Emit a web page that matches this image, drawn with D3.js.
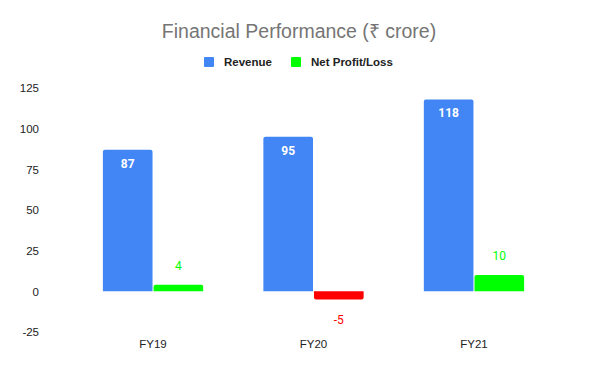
<!DOCTYPE html>
<html>
<head>
<meta charset="utf-8">
<script src="https://cdn.jsdelivr.net/npm/d3@7"></script>
<style>
  body { margin: 0; background: #fff; }
  svg { display: block; }
</style>
</head>
<body>
<svg id="chart" width="600" height="371"></svg>
<script>
const years = ["FY19", "FY20", "FY21"];
const revenue = [87, 95, 118];
const netProfit = [4, -5, 10];
const yTicks = [-25, 0, 25, 50, 75, 100, 125];
const seriesNames = ["Revenue", "Net Profit/Loss"];

const width = 600, height = 371;
const margin = { top: 88, right: 46, bottom: 39, left: 73 };

const svg = d3.select('#chart');

const x0 = d3.scaleBand()
  .domain(years)
  .range([margin.left, width - margin.right])
  .paddingInner(0.3625)
  .paddingOuter(0.18);

const x1 = d3.scaleBand()
  .domain(seriesNames)
  .range([0, x0.bandwidth()])
  .padding(0.02);

const y = d3.scaleLinear()
  .domain([-25, 125])
  .range([height - margin.bottom, margin.top]);

// title
svg.append('text')
  .attr('x', 299).attr('y', 38)
  .attr('text-anchor', 'middle')
  .style('font-family', 'Liberation Sans, Arial, sans-serif')
  .style('font-size', '19.5px')
  .style('fill', '#757575')
  .text('Financial Performance (₹ crore)');

// legend
const legendItems = [
  { name: seriesNames[0], color: '#4285f4', x: 204 },
  { name: seriesNames[1], color: '#00ff00', x: 291 }
];
legendItems.forEach(d => {
  svg.append('rect')
    .attr('x', d.x).attr('y', 57)
    .attr('width', 10).attr('height', 10)
    .attr('rx', 1)
    .attr('fill', d.color);
  svg.append('text')
    .attr('x', d.x + 20).attr('y', 66)
    .style('font-family', 'Liberation Sans, Arial, sans-serif')
    .style('font-size', '11.5px')
    .style('font-weight', 'bold')
    .style('fill', '#222')
    .text(d.name);
});

// y axis labels (no line, no grid)
const yAxis = svg.append('g')
  .attr('transform', `translate(${margin.left - 34},0)`)
  .call(d3.axisLeft(y).tickValues(yTicks).tickFormat(d => String(d)).tickSize(0).tickPadding(0));
yAxis.select('.domain').remove();
yAxis.selectAll('text')
  .style('font-family', 'Liberation Sans, Arial, sans-serif')
  .style('font-size', '11.5px')
  .style('fill', '#222');

// x axis labels
const xAxis = svg.append('g')
  .attr('transform', `translate(0,${height - margin.bottom})`)
  .call(d3.axisBottom(x0).tickSize(0).tickPadding(8));
xAxis.select('.domain').remove();
xAxis.selectAll('text')
  .style('font-family', 'Liberation Sans, Arial, sans-serif')
  .style('font-size', '11.5px')
  .style('fill', '#222');

// rounded-top bar path
function barPath(x, y0, w, yv, r) {
  const top = Math.min(y0, yv), bot = Math.max(y0, yv);
  const h = bot - top;
  r = Math.min(r, h / 2);
  if (yv <= y0) {
    return `M${x},${bot}V${top + r}Q${x},${top} ${x + r},${top}H${x + w - r}Q${x + w},${top} ${x + w},${top + r}V${bot}Z`;
  }
  return `M${x},${top}V${bot - r}Q${x},${bot} ${x + r},${bot}H${x + w - r}Q${x + w},${bot} ${x + w},${bot - r}V${top}Z`;
}

const groups = svg.selectAll('g.year')
  .data(years)
  .join('g')
  .attr('class', 'year')
  .attr('transform', d => `translate(${x0(d)},0)`);

// revenue bars
groups.append('path')
  .attr('d', (d, i) => barPath(x1(seriesNames[0]), y(0), x1.bandwidth(), y(revenue[i]), 2))
  .attr('fill', '#4285f4');

groups.append('text')
  .attr('x', x1(seriesNames[0]) + x1.bandwidth() / 2)
  .attr('y', (d, i) => y(revenue[i]) + 18)
  .attr('text-anchor', 'middle')
  .style('font-family', 'Roboto, sans-serif')
  .style('font-size', '12px')
  .style('font-weight', 'bold')
  .style('fill', '#fff')
  .text((d, i) => revenue[i]);

// profit/loss bars
groups.append('path')
  .attr('d', (d, i) => barPath(x1(seriesNames[1]), y(0), x1.bandwidth(), y(netProfit[i]), 2))
  .attr('fill', (d, i) => netProfit[i] < 0 ? '#ff0000' : '#00ff00');

groups.append('text')
  .attr('x', x1(seriesNames[1]) + x1.bandwidth() / 2)
  .attr('y', (d, i) => netProfit[i] < 0 ? y(netProfit[i]) + 25 : y(netProfit[i]) - 15)
  .attr('text-anchor', 'middle')
  .style('font-family', 'Roboto, sans-serif')
  .style('font-size', '12px')
  .style('fill', (d, i) => netProfit[i] < 0 ? '#ff0000' : '#00ff00')
  .text((d, i) => netProfit[i]);
</script>
</body>
</html>
